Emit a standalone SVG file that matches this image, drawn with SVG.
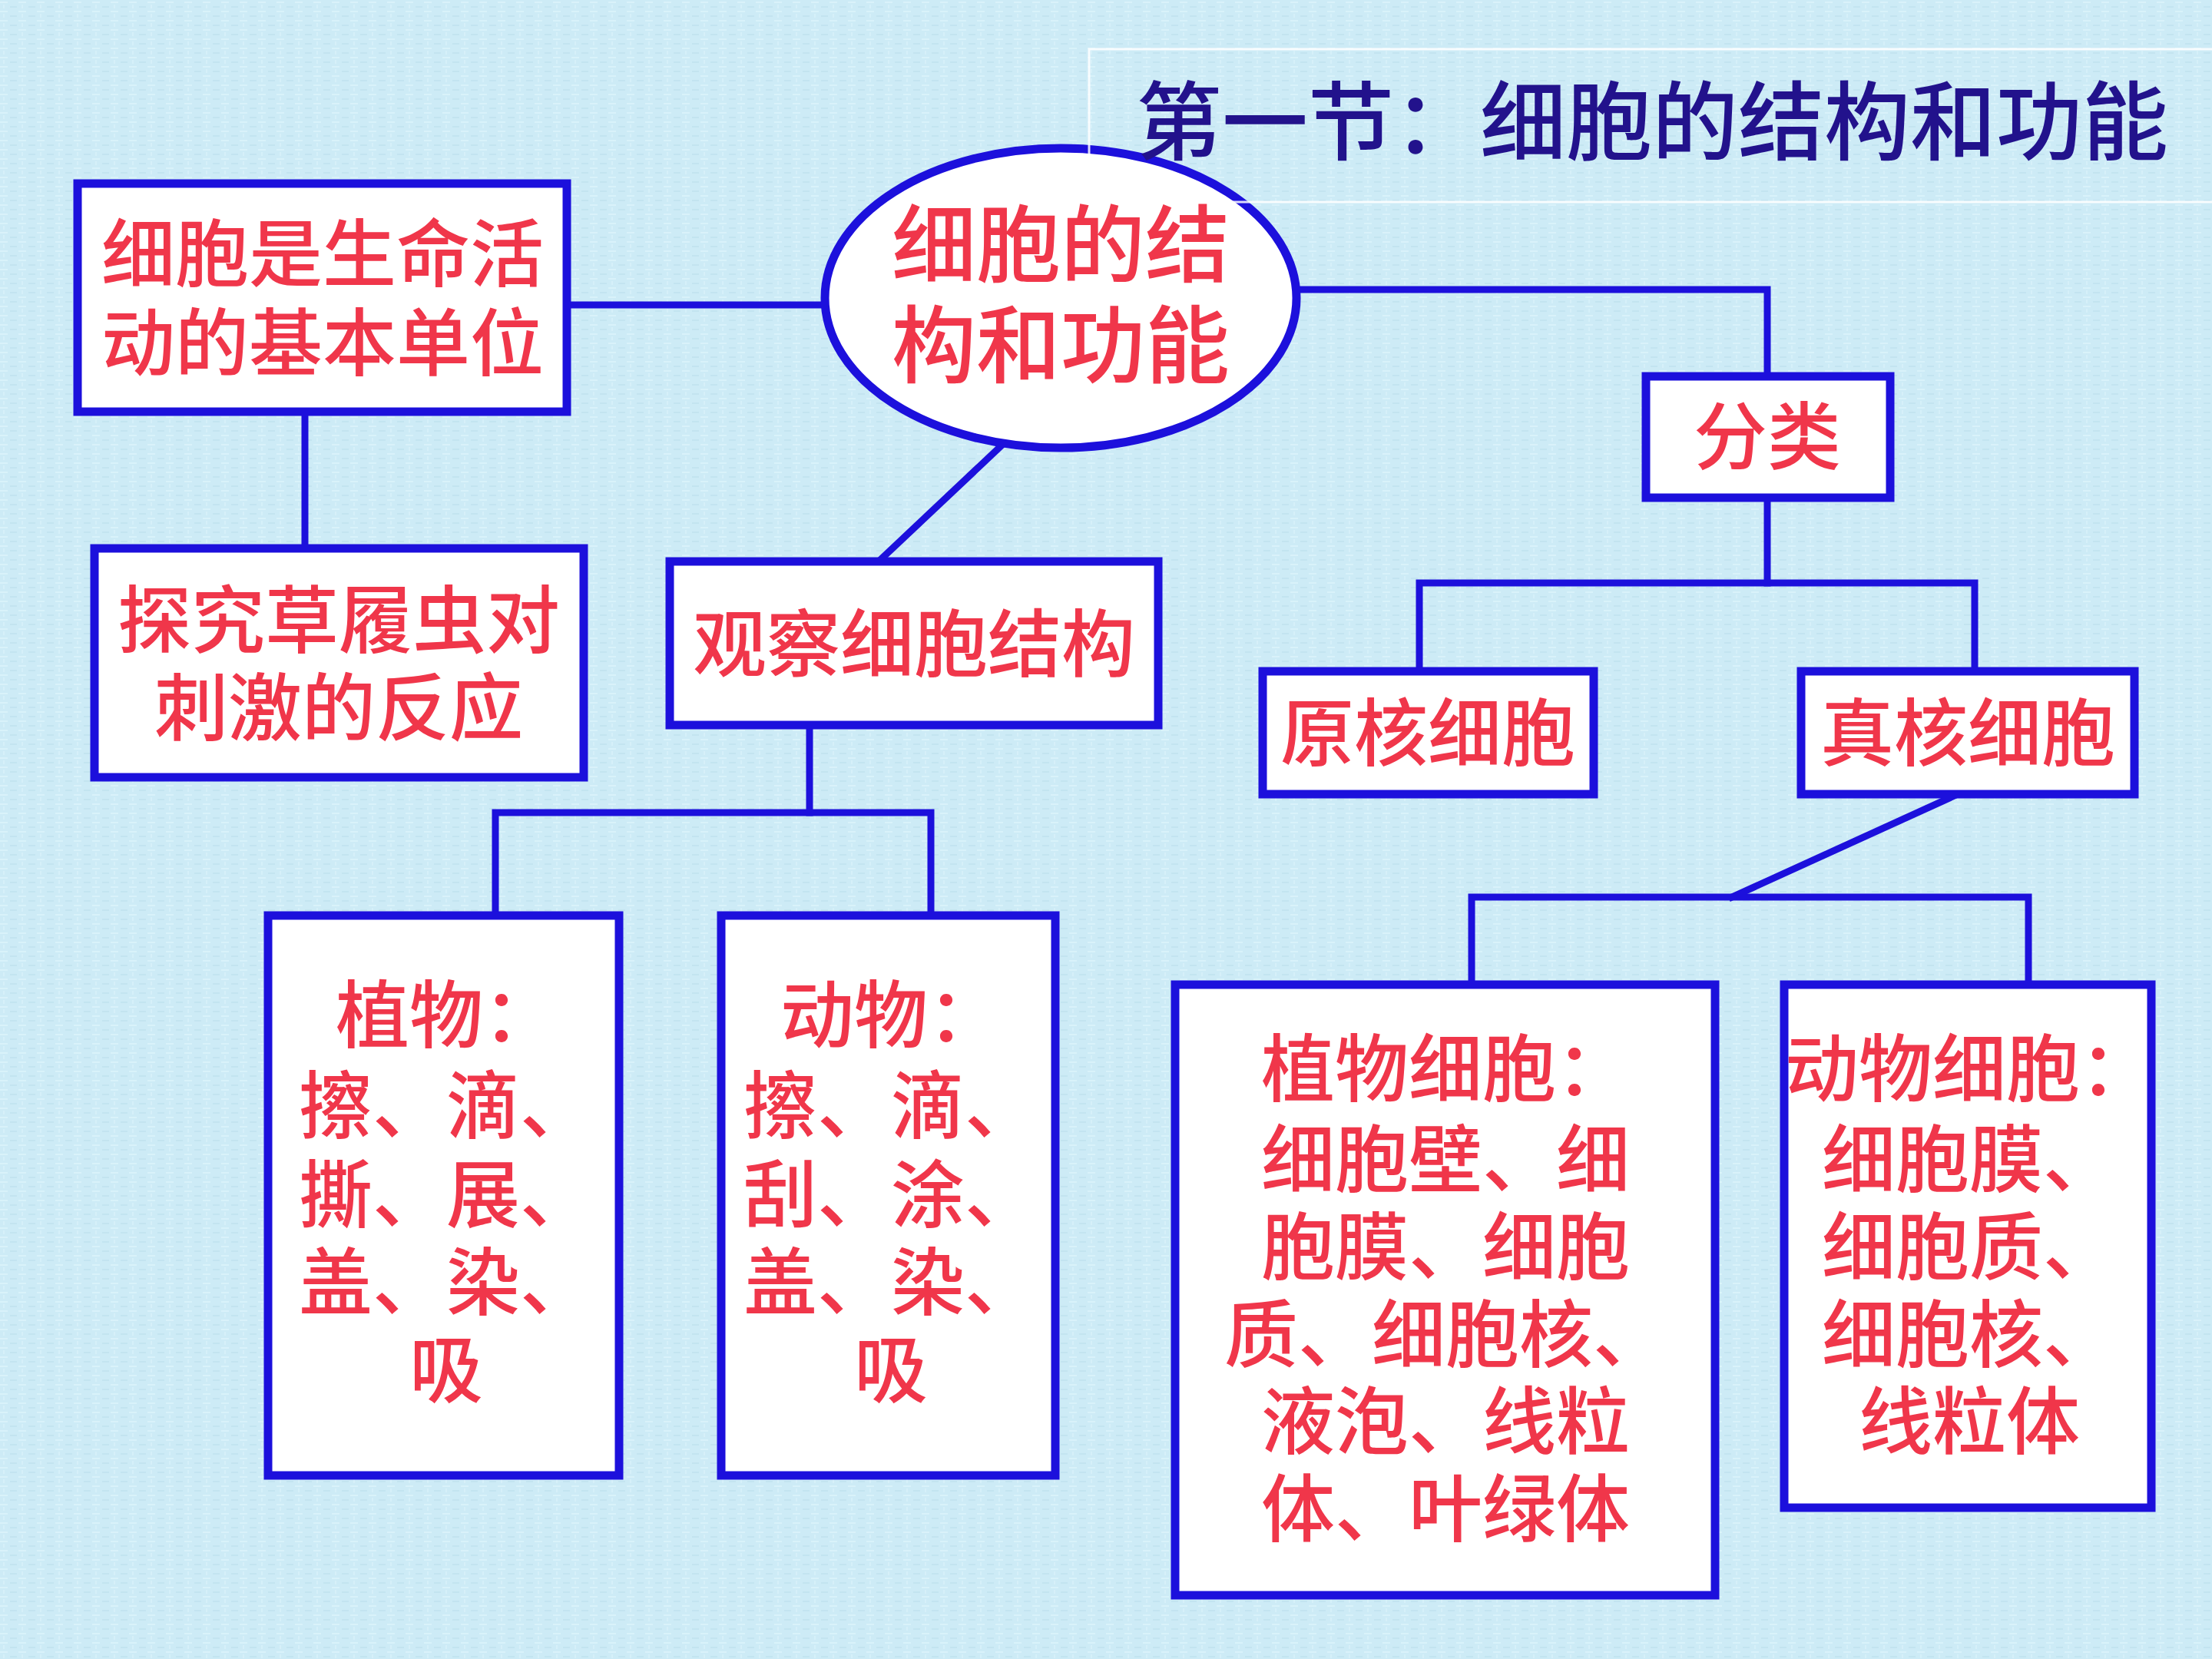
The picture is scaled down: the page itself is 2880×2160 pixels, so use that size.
<svg xmlns="http://www.w3.org/2000/svg" width="2880" height="2160" viewBox="0 0 2880 2160">
<defs>
<pattern id="tex" width="24" height="12" patternUnits="userSpaceOnUse">
<rect width="24" height="12" fill="#cdebf6"/>
<rect x="0" y="2" width="10" height="2" fill="#d9f2fa"/>
<rect x="13" y="8" width="9" height="2" fill="#c3e4f0"/>
<rect x="4" y="6" width="2" height="5" fill="#d6f0f9"/>
</pattern>
<style>
.box{fill:#ffffff;stroke:#1c10dc;stroke-width:11}
.ln{fill:none;stroke:#1c10dc;stroke-width:9;stroke-linecap:square;stroke-linejoin:miter}
.t{font-family:"Noto Sans CJK SC","Noto Sans CJK JP",sans-serif;fill:#f0364a;text-anchor:middle;font-size:96px;font-weight:500}
.big{font-size:110px}
.title{font-family:"Noto Sans CJK SC","Noto Sans CJK JP",sans-serif;font-size:112px;font-weight:500}
</style>
</defs>
<rect width="2880" height="2160" fill="url(#tex)"/>

<g id="connectors">
<line class="ln" x1="738" y1="397" x2="1075" y2="397"/>
<polyline class="ln" points="1688,377 2301,377 2301,490"/>
<line class="ln" x1="2301" y1="648" x2="2301" y2="759"/>
<polyline class="ln" points="1848,874 1848,759 2571,759 2571,874"/>
<line class="ln" x1="2549" y1="1034" x2="2255" y2="1168"/>
<polyline class="ln" points="1916,1282 1916,1168 2641,1168 2641,1282"/>
<line class="ln" x1="1304" y1="580" x2="1144" y2="731"/>
<line class="ln" x1="1054" y1="944" x2="1054" y2="1058"/>
<polyline class="ln" points="645,1192 645,1058 1212,1058 1212,1192"/>
<line class="ln" x1="397" y1="536" x2="397" y2="714"/>
</g>

<g id="node-root">
<ellipse class="box" cx="1381" cy="388" rx="307" ry="195"/>
<text class="t big" x="1381" y="359">细胞的结<tspan x="1381" dy="131">构和功能</tspan></text>
</g>

<g id="title">
<rect x="1418" y="64" width="1470" height="199" fill="none" stroke="#ffffff" stroke-width="3" stroke-opacity="0.85"/>
<text class="title" x="1479" y="200" fill="#22128c">第一节：细胞的结构和功能</text>
</g>

<g id="node-unit">
<rect class="box" x="101" y="239" width="637" height="297"/>
<text class="t" x="420" y="365">细胞是生命活<tspan x="420" dy="116">动的基本单位</tspan></text>
</g>

<g id="node-paramecium">
<rect class="box" x="123" y="714" width="637" height="298"/>
<text class="t" x="441" y="842">探究草履虫对<tspan x="441" dy="114">刺激的反应</tspan></text>
</g>

<g id="node-observe">
<rect class="box" x="872" y="731" width="636" height="213"/>
<text class="t" x="1190" y="873">观察细胞结构</text>
</g>

<g id="node-plant-steps">
<rect class="box" x="349" y="1192" width="457" height="729"/>
<text class="t" x="581" y="1356">植物：<tspan x="581" dy="118">擦、滴、</tspan><tspan x="581" dy="116">撕、展、</tspan><tspan x="581" dy="114">盖、染、</tspan><tspan x="581" dy="114">吸</tspan></text>
</g>

<g id="node-animal-steps">
<rect class="box" x="939" y="1192" width="435" height="729"/>
<text class="t" x="1160" y="1356">动物：<tspan x="1160" dy="118">擦、滴、</tspan><tspan x="1160" dy="116">刮、涂、</tspan><tspan x="1160" dy="114">盖、染、</tspan><tspan x="1160" dy="114">吸</tspan></text>
</g>

<g id="node-classify">
<rect class="box" x="2143" y="490" width="318" height="158"/>
<text class="t" x="2301" y="603">分类</text>
</g>

<g id="node-prokaryote">
<rect class="box" x="1644" y="874" width="431" height="160"/>
<text class="t" x="1859" y="989">原核细胞</text>
</g>

<g id="node-eukaryote">
<rect class="box" x="2345" y="874" width="434" height="160"/>
<text class="t" x="2562" y="989">真核细胞</text>
</g>

<g id="node-plant-cell">
<rect class="box" x="1530" y="1282" width="703" height="795"/>
<text class="t" x="1882" y="1426">植物细胞：<tspan x="1882" dy="118">细胞壁、细</tspan><tspan x="1882" dy="114">胞膜、细胞</tspan><tspan x="1882" dy="114">质、细胞核、</tspan><tspan x="1882" dy="113">液泡、线粒</tspan><tspan x="1882" dy="114">体、叶绿体</tspan></text>
</g>

<g id="node-animal-cell">
<rect class="box" x="2323" y="1282" width="478" height="681"/>
<text class="t" x="2564" y="1426">动物细胞：<tspan x="2564" dy="118">细胞膜、</tspan><tspan x="2564" dy="114">细胞质、</tspan><tspan x="2564" dy="114">细胞核、</tspan><tspan x="2564" dy="113">线粒体</tspan></text>
</g>
</svg>
